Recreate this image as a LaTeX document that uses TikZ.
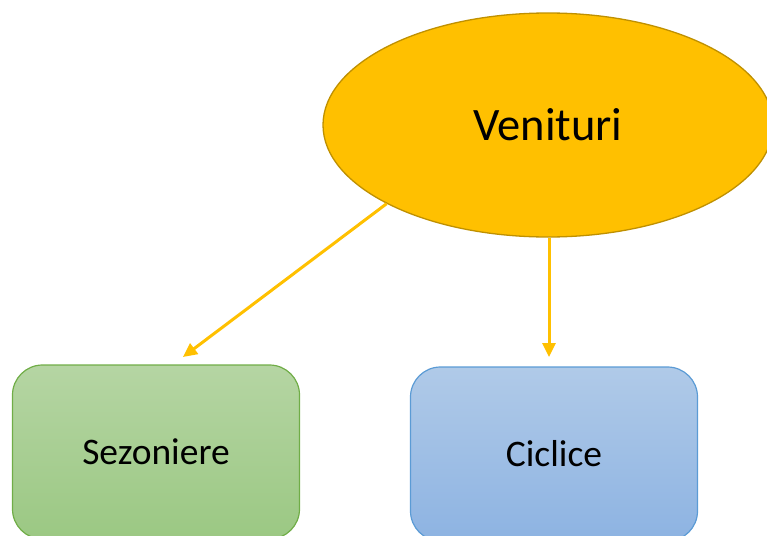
\documentclass[tikz,border=0pt]{standalone}
\usepackage{fontspec}
\setmainfont{Carlito}
\usetikzlibrary{shapes.geometric,arrows.meta}
\definecolor{gold}{HTML}{FFC000}
\definecolor{golddark}{HTML}{BF9000}
\definecolor{gtop}{HTML}{B5D5A3}
\definecolor{gbot}{HTML}{9BC883}
\definecolor{gline}{HTML}{70AD47}
\definecolor{btop}{HTML}{B0CAE8}
\definecolor{bbot}{HTML}{8DB3E2}
\definecolor{bline}{HTML}{5B9BD5}
\tikzset{
  box/.style={draw, line width=1.2pt, rounded corners=30pt, minimum width=287pt, minimum height=174pt, inner sep=0pt, font=\fontsize{37.5}{44}\selectfont},
  conn/.style={draw=gold, line width=3pt, -{Triangle[length=14pt,width=13pt]}}
}
\begin{document}
\begin{tikzpicture}[x=1pt,y=-1pt]
\useasboundingbox (0,0) rectangle (767,535);
\clip (0,0) rectangle (767,535);
\node[ellipse, draw=golddark, fill=gold, line width=1.3pt, minimum width=450pt, minimum height=224pt, inner sep=0pt, font=\fontsize{46.5}{52}\selectfont] (v) at (548,125) {Venituri};
\node[box, draw=gline, top color=gtop, bottom color=gbot] (s) at (156,452) {Sezoniere};
\node[box, draw=bline, top color=btop, bottom color=bbot] (c) at (554,454) {Ciclice};
\coordinate (sa) at (183,357);
\coordinate (ca) at (549,357);
\draw[conn] (v.206.6) -- (sa);
\draw[conn] (v.south -| ca) -- (ca);
\end{tikzpicture}
\end{document}
